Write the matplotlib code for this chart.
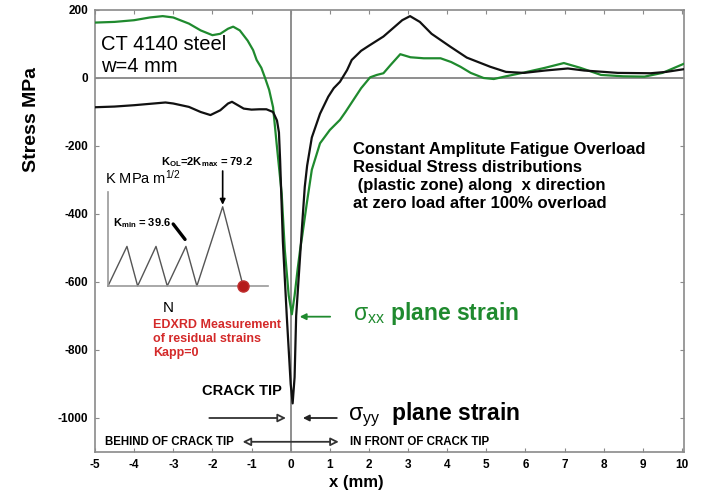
import numpy as np
import matplotlib
matplotlib.use('Agg')
import matplotlib.pyplot as plt

plt.rcParams['font.family'] = ['Liberation Sans', 'DejaVu Sans']
plt.rcParams['mathtext.fontset'] = 'custom'
plt.rcParams['mathtext.rm'] = 'Liberation Sans'
plt.rcParams['mathtext.it'] = 'Liberation Sans'
plt.rcParams['mathtext.bf'] = 'Liberation Sans:bold'
plt.rcParams['axes.unicode_minus'] = False

# sigma_yy, plane strain (black)
x_yy = [-5.0, -4.5, -4.0, -3.5, -3.2, -3.0, -2.6, -2.3, -2.05, -1.8, -1.6, -1.5,
        -1.35, -1.2, -1.0, -0.8, -0.62, -0.45, -0.35, -0.3, -0.27, -0.2, -0.1,
        0.0, 0.05, 0.1, 0.14, 0.22, 0.3, 0.36, 0.42, 0.54, 0.75, 0.96, 1.1,
        1.26, 1.44, 1.56, 1.8, 2.0, 2.37, 2.6, 2.85, 3.05, 3.3, 3.6, 4.08, 4.5,
        5.1, 5.5, 5.96, 6.5, 7.08, 7.5, 8.0, 8.36, 9.2, 9.6, 10.05]
s_yy = [-86, -84, -80, -75, -72, -75, -85, -100, -109, -95, -75, -70,
        -80, -90, -93, -92, -92, -100, -125, -160, -241, -480, -700,
        -900, -957, -880, -700, -560, -420, -320, -258, -175, -105, -55, -30,
        -11, 23, 53, 80, 95, 122, 145, 170, 182, 165, 130, 92, 60,
        33, 18, 15, 22, 28, 22, 18, 15, 14, 18, 26]

# sigma_xx, plane strain (green)
x_xx = [-5.0, -4.5, -4.0, -3.6, -3.27, -3.0, -2.6, -2.3, -2.0, -1.8, -1.6, -1.47,
        -1.3, -1.1, -0.96, -0.87, -0.75, -0.66, -0.55, -0.45, -0.36, -0.23,
        -0.15, -0.05, 0.03, 0.1, 0.18, 0.24, 0.3, 0.41, 0.54, 0.75, 1.0, 1.26,
        1.4, 1.6, 1.8, 2.03, 2.2, 2.37, 2.55, 2.8, 3.06, 3.4, 3.83, 4.1, 4.34,
        4.6, 4.93, 5.19, 5.5, 5.96, 6.5, 6.98, 7.4, 7.93, 8.5, 9.04, 9.5, 10.05]
s_xx = [163, 165, 170, 178, 182, 178, 160, 140, 126, 130, 145, 151,
        140, 110, 82, 53, 30, 2, -35, -86, -192, -340,
        -506, -640, -695, -640, -560, -506, -460, -370, -270, -192, -153, -123,
        -100, -65, -30, 2, 9, 14, 38, 70, 61, 58, 58, 47, 33,
        15, 0, -3, 5, 16, 30, 44, 30, 9, 5, 4, 15, 42]

# loading history sketch: K vs N
n_cyc = [0, 0.64, 1.0, 1.62, 2.0, 2.63, 3.0, 3.87, 4.56]
k_cyc = [0, 39.6, 0, 39.6, 0, 39.6, 0, 79.2, 0]
k_min, k_ol = 39.6, 79.2

x_ticks = list(range(-5, 11))
y_ticks = [-1000, -800, -600, -400, -200, 0, 200]

W, H = 701, 493
fig = plt.figure(figsize=(W / 100, H / 100), dpi=100)
ax = fig.add_axes([95 / W, 1 - 452 / H, (684 - 95) / W, (452 - 10) / H])

frame = '#8a8a8a'
green = '#1f8a2e'
red = '#d42a2a'

ax.axhline(0, color='#707070', lw=1.1, zorder=1)
ax.axvline(0, color='#707070', lw=1.1, zorder=1)
ax.plot(x_xx, s_xx, color=green, lw=1.6, zorder=3)
ax.plot(x_yy, s_yy, color='#111111', lw=1.6, zorder=4)

ax.set_xlim(-5, 10.05)
ax.set_ylim(-1100, 200)
ax.set_xticks(x_ticks)
ax.set_yticks(y_ticks)
ax.tick_params(direction='in', length=3, color=frame, top=True, right=True,
               labelsize=8.5, pad=5)
for lab in ax.get_xticklabels() + ax.get_yticklabels():
    lab.set_fontweight('bold')
for sp in ax.spines.values():
    sp.set_color(frame)
    sp.set_linewidth(1.2)

fig.text(32 / W, 1 - 119 / H, 'Stress MPa', rotation=90, ha='center', va='center',
         fontsize=14, fontweight='bold')
fig.text(356 / W, 1 - 483 / H, 'x (mm)', ha='center', va='center',
         fontsize=12, fontweight='bold')

ax.text(-4.84, 67, 'CT 4140 steel\nw=4 mm', fontsize=14.5, va='center',
        ha='left', linespacing=1.2)

ax.text(1.6, -290, 'Constant Amplitute Fatigue Overload\nResidual Stress distributions\n'
        ' (plastic zone) along  x direction\nat zero load after 100% overload',
        fontsize=12, fontweight='bold', va='center', ha='left', linespacing=1.27)

# curve labels
ax.text(1.6, -693, r'$\sigma_{xx}$ plane strain', color=green, fontsize=16.5,
        fontweight='bold', va='center', ha='left')
ax.annotate('', xy=(0.16, -702), xytext=(1.08, -702),
            arrowprops=dict(arrowstyle='-|>', color=green, lw=1.3,
                            mutation_scale=9))
ax.text(1.47, -990, r'$\sigma_{yy}$  plane strain', color='black', fontsize=16.5,
        fontweight='bold', va='center', ha='left')
ax.annotate('', xy=(0.24, -1000), xytext=(1.25, -1000),
            arrowprops=dict(arrowstyle='-|>', color='#222', lw=1.3,
                            mutation_scale=9))

# crack tip markers
ax.text(-1.25, -921, 'CRACK TIP', fontsize=10.5, fontweight='bold',
        ha='center', va='center')
ax.annotate('', xy=(-0.05, -1000), xytext=(-2.15, -1000),
            arrowprops=dict(arrowstyle='-|>', fc='white', ec='#333', lw=1.3,
                            mutation_scale=12))
ax.annotate('', xy=(-1.3, -1070), xytext=(1.3, -1070),
            arrowprops=dict(arrowstyle='<|-|>', fc='white', ec='#333', lw=1.3,
                            mutation_scale=12))
ax.text(-1.45, -1070, 'BEHIND OF CRACK TIP', fontsize=8.3, fontweight='bold',
        ha='right', va='center')
ax.text(1.52, -1070, 'IN FRONT OF CRACK TIP', fontsize=8.3, fontweight='bold',
        ha='left', va='center')

# loading history inset
ins = fig.add_axes([108 / W, 1 - 286 / H, (268 - 108) / W, (286 - 192) / H])
ins.patch.set_alpha(0)
ins.plot(n_cyc, k_cyc, color='#555555', lw=1.0, clip_on=False)
ins.set_xlim(0, 5.4)
ins.set_ylim(0, 94)
ins.set_xticks([])
ins.set_yticks([])
for side in ['top', 'right']:
    ins.spines[side].set_visible(False)
for side in ['left', 'bottom']:
    ins.spines[side].set_color('#999999')
    ins.spines[side].set_linewidth(1.2)

ins.text(-0.1, 108, r'K MPa m$^{1/2}$', fontsize=10.5, ha='left', va='center')
ins.text(3.34, 124, r'K$_{\mathbf{OL}}$=2K$_{\mathbf{max}}$ = ' + f'{k_ol:.1f}',
         ha='center', va='center', fontsize=8, fontweight='bold')
ins.annotate('', xy=(n_cyc[7], k_ol + 2), xytext=(n_cyc[7], 115),
             arrowprops=dict(arrowstyle='-|>', color='black', lw=1.2,
                             mutation_scale=8, shrinkA=0, shrinkB=0))
ins.text(2.12, 63, r'K$_{\mathbf{min}}$ = ' + f'{k_min:.1f}', ha='right',
         va='center', fontsize=8, fontweight='bold')
ins.annotate('', xy=(n_cyc[5] - 0.03, k_min + 7), xytext=(2.2, 62),
             arrowprops=dict(arrowstyle='-', color='black', lw=2.4,
                             shrinkA=0, shrinkB=0))
ins.text(2.03, -22, 'N', fontsize=11, ha='center', va='center')
ins.plot([n_cyc[-1]], [0], 'o', ms=8, mfc='#b51a1a', mec='#c03030', clip_on=False,
         zorder=5)
ins.annotate('', xy=(n_cyc[-1], -6), xytext=(n_cyc[-1], -32),
             arrowprops=dict(arrowstyle='-|>', color=red, lw=1.4, mutation_scale=8))
ins.text(1.52, -33, 'EDXRD Measurement\nof residual strains\nKapp=0', color=red,
         fontsize=9, fontweight='bold', ha='left', va='top', linespacing=1.2)

fig.savefig('out.png', dpi=100, facecolor='white')
